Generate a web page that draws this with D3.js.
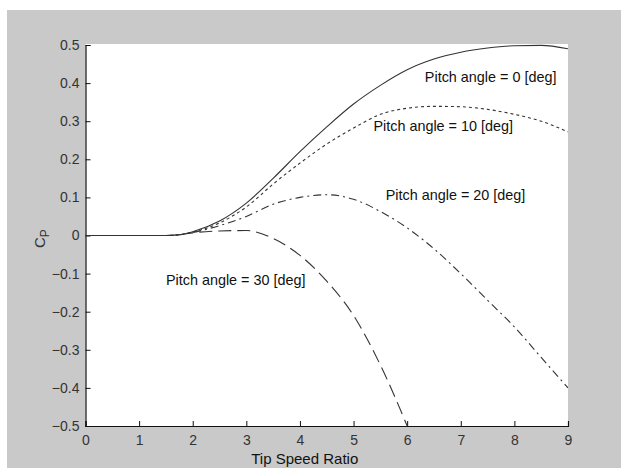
<!DOCTYPE html>
<html>
<head>
<meta charset="utf-8">
<script src="https://cdn.jsdelivr.net/npm/d3@7"></script>
<style>
  body { margin: 0; background: #fff; }
  text { font-family: "Liberation Sans", Arial, sans-serif; }
</style>
</head>
<body>
<svg id="chart" width="622" height="468"></svg>
<script>
// tip speed ratio samples
let tsr = [0, 0.5, 1, 1.5, 1.75, 2, 2.5, 3, 3.5, 4, 4.5, 5, 5.5, 6, 6.5, 7, 7.5, 8, 8.5, 9];
// Cp for each pitch angle
let cp0 = [0, 0, 0, 0, 0.002, 0.01, 0.038, 0.085, 0.15, 0.22, 0.285, 0.345, 0.394, 0.435, 0.463, 0.481, 0.492, 0.498, 0.499, 0.49];
let cp10 = [0, 0, 0, 0, 0.002, 0.009, 0.033, 0.075, 0.135, 0.19, 0.24, 0.282, 0.318, 0.334, 0.339, 0.338, 0.331, 0.318, 0.3, 0.272];
let cp20 = [0, 0, 0, 0, 0.002, 0.008, 0.026, 0.05, 0.082, 0.1, 0.107, 0.095, 0.063, 0.02, -0.035, -0.1, -0.17, -0.24, -0.32, -0.4];
let cp30 = [0, 0, 0, 0, 0.002, 0.007, 0.012, 0.013, -0.008, -0.052, -0.12, -0.21, -0.34, -0.5, -0.68, null, null, null, null, null];
let xTicks = [0, 1, 2, 3, 4, 5, 6, 7, 8, 9];
let yTicks = [0.5, 0.4, 0.3, 0.2, 0.1, 0, -0.1, -0.2, -0.3, -0.4, -0.5];
let labels = ["Pitch angle = 0 [deg]", "Pitch angle = 10 [deg]", "Pitch angle = 20 [deg]", "Pitch angle = 30 [deg]"];
let labelPos = [[6.33, 0.402], [5.37, 0.273], [5.6, 0.094], [1.5, -0.131]]; // [tsr, cp] of label start

let svg = d3.select("#chart");
let ink = "#333";

svg.append("rect").attr("x", 7).attr("y", 10).attr("width", 614).attr("height", 458).attr("fill", "#c9c9c9");

let x = d3.scaleLinear().domain([0, 9]).range([85.5, 568]);
let y = d3.scaleLinear().domain([-0.5, 0.5]).range([426, 45]);

svg.append("rect")
  .attr("x", x(0)).attr("y", 44)
  .attr("width", x(9) - x(0)).attr("height", y(-0.5) - 44)
  .attr("fill", "#fff");

svg.append("clipPath").attr("id", "clip")
  .append("rect")
  .attr("x", x(0)).attr("y", 44)
  .attr("width", x(9) - x(0)).attr("height", y(-0.5) - 44);

// axes, ticks pointing inward like matlab
let gx = svg.append("g")
  .attr("transform", "translate(0," + y(-0.5) + ")")
  .call(d3.axisBottom(x).tickValues(xTicks).tickSize(-5).tickPadding(9).tickFormat(d3.format("d")));
let gy = svg.append("g")
  .attr("transform", "translate(" + x(0) + ",0)")
  .call(d3.axisLeft(y).tickValues(yTicks).tickSize(-5).tickPadding(6).tickFormat((d) => (d === 0 ? "0" : d3.format(".1f")(d))));

[gx, gy].forEach((g) => {
  g.select(".domain").attr("stroke", "#111").attr("stroke-width", 1.2);
  g.selectAll(".tick line").attr("stroke", "#111");
  g.selectAll(".tick text").attr("fill", ink).attr("font-size", 14)
    .style("font-family", "'Liberation Sans', Arial, sans-serif");
});

let line = d3.line()
  .defined((d) => d[1] !== null)
  .x((d) => x(d[0]))
  .y((d) => y(d[1]))
  .curve(d3.curveMonotoneX);

let series = [cp0, cp10, cp20, cp30];
let dashes = [null, "3,3", "8,4,2,4", "13,6"];

series.forEach((s, i) => {
  svg.append("path")
    .datum(tsr.map((t, j) => [t, s[j]]))
    .attr("clip-path", "url(#clip)")
    .attr("fill", "none")
    .attr("stroke", ink)
    .attr("stroke-width", 1.1)
    .attr("stroke-dasharray", dashes[i])
    .attr("d", line);
});

labels.forEach((l, i) => {
  svg.append("text")
    .attr("x", x(labelPos[i][0]))
    .attr("y", y(labelPos[i][1]))
    .attr("font-size", 14.4)
    .attr("fill", "#111")
    .text(l);
});

svg.append("text")
  .attr("x", x(4.5) - 22)
  .attr("y", 464)
  .attr("text-anchor", "middle")
  .attr("font-size", 15)
  .attr("fill", "#111")
  .text("Tip Speed Ratio");

// C with subscript P
let yl = svg.append("text")
  .attr("transform", "translate(45,248) rotate(-90)")
  .attr("font-size", 15)
  .attr("fill", ink);
yl.append("tspan").text("C");
yl.append("tspan").attr("font-size", 12).attr("dy", 4).text("P");
</script>
</body>
</html>
